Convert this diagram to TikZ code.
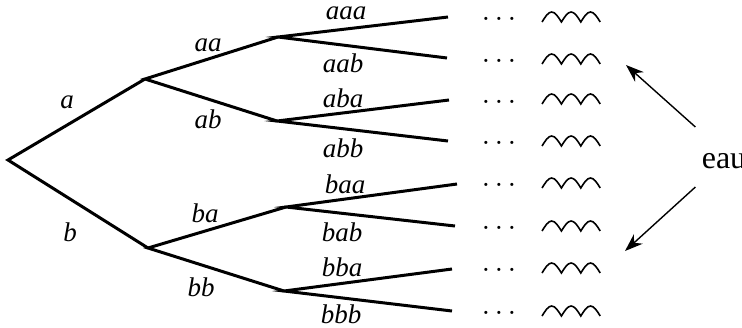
\documentclass[tikz,border=0pt]{standalone}
\usepackage{fontspec}
\setmainfont{Liberation Serif}
\usetikzlibrary{arrows.meta}
\tikzstyle{branch} = [draw, line width=1.5pt]
\tikzstyle{word} = [font=\fontsize{13.5}{15}\selectfont\itshape, inner sep=0pt]
\tikzstyle{dots} = [font=\fontsize{13}{15}\selectfont, inner sep=0pt]
\tikzstyle{line} = [draw, line width=0.7pt, -{Stealth[length=9pt,width=6.5pt]}]
\tikzstyle{wave} = [draw, line width=0.8pt]
\newcommand{\squiggle}[1]{\path [wave] (#1) sin ++(9.7,-10) cos ++(9.7,10)
  sin ++(9.7,-10) cos ++(9.7,10) sin ++(9.7,-10) cos ++(9.7,10);}
\newcommand{\middots}{·\kern2.2pt·\kern2.2pt·}

\begin{document}
\begin{tikzpicture}[x=0.5pt, y=-0.5pt]
	    \useasboundingbox (0,0) rectangle (742,327);
	    % Place nodes
	    \coordinate (root) at (8,160);
	    \coordinate (a) at (145,79);
	    \coordinate (b) at (148,248);
	    \coordinate (aa) at (278,37);
	    \coordinate (ab) at (277,121);
	    \coordinate (ba) at (286,207);
	    \coordinate (bb) at (284,291);
	    \coordinate (aaa) at (448,17);
	    \coordinate (aab) at (447,58);
	    \coordinate (aba) at (449,100);
	    \coordinate (abb) at (448,141);
	    \coordinate (baa) at (457,184);
	    \coordinate (bab) at (455,226);
	    \coordinate (bba) at (452,269);
	    \coordinate (bbb) at (452,311);
	    \node [word] (la) at (67,102) {a};
	    \node [word] (lb) at (70,232) {b};
	    \node [word] (laa) at (208,45) {aa};
	    \node [word] (lab) at (208,119) {ab};
	    \node [word] (lba) at (205,213) {ba};
	    \node [word] (lbb) at (201,287) {bb};
	    \node [word] (laaa) at (346,13) {aaa};
	    \node [word] (laab) at (343,63) {aab};
	    \node [word] (laba) at (343,98) {aba};
	    \node [word] (labb) at (343,148) {abb};
	    \node [word] (lbaa) at (345,184) {baa};
	    \node [word] (lbab) at (342,232) {bab};
	    \node [word] (lbba) at (342,267) {bba};
	    \node [word] (lbbb) at (341,314) {bbb};
	    \node [dots] (d1) at (499,22) {\middots};
	    \node [dots] (d2) at (499,64) {\middots};
	    \node [dots] (d3) at (499,105) {\middots};
	    \node [dots] (d4) at (499,146) {\middots};
	    \node [dots] (d5) at (499,188) {\middots};
	    \node [dots] (d6) at (499,231) {\middots};
	    \node [dots] (d7) at (499,273) {\middots};
	    \node [dots] (d8) at (499,316) {\middots};
	    \coordinate (w1) at (542,22);
	    \coordinate (w2) at (542,64);
	    \coordinate (w3) at (542,104);
	    \coordinate (w4) at (542,146);
	    \coordinate (w5) at (542,188);
	    \coordinate (w6) at (542,231);
	    \coordinate (w7) at (542,273);
	    \coordinate (w8) at (542,316);
	    \node [font=\fontsize{16}{19}\selectfont, inner sep=0pt] (eau) at (724,161) {eau};
	    \coordinate (top) at (626,65);
	    \coordinate (bottom) at (625,251);
	    % Draw edges
	    \path [branch] (a) -- (root) -- (b);
	    \path [branch] (aa) -- (a) -- (ab);
	    \path [branch] (ba) -- (b) -- (bb);
	    \path [branch] (aaa) -- (aa) -- (aab);
	    \path [branch] (aba) -- (ab) -- (abb);
	    \path [branch] (baa) -- (ba) -- (bab);
	    \path [branch] (bba) -- (bb) -- (bbb);
	    \squiggle{w1} \squiggle{w2} \squiggle{w3} \squiggle{w4}
	    \squiggle{w5} \squiggle{w6} \squiggle{w7} \squiggle{w8}
	    \path [line] ([xshift=-3pt, yshift=17pt]eau.west) -- (top);
	    \path [line] ([xshift=-3pt, yshift=-13pt]eau.west) -- (bottom);
	\end{tikzpicture}
\end{document}
